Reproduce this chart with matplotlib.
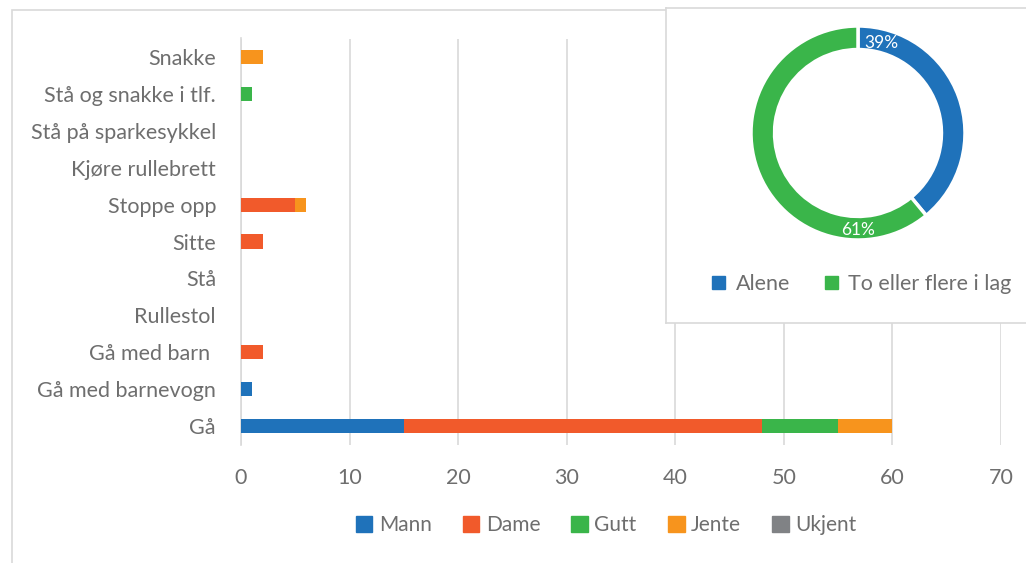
import matplotlib.pyplot as plt
from matplotlib.patches import Rectangle, Patch

plt.rcParams['font.family'] = ['Lato', 'DejaVu Sans']

categories = ["Snakke", "Stå og snakke i tlf.", "Stå på sparkesykkel", "Kjøre rullebrett",
              "Stoppe opp", "Sitte", "Stå", "Rullestol", "Gå med barn ",
              "Gå med barnevogn", "Gå"]
mann   = [0, 0, 0, 0, 0, 0, 0, 0, 0, 1, 15]
dame   = [0, 0, 0, 0, 5, 2, 0, 0, 2, 0, 33]
gutt   = [0, 1, 0, 0, 0, 0, 0, 0, 0, 0, 7]
jente  = [2, 0, 0, 0, 1, 0, 0, 0, 0, 0, 5]
ukjent = [0, 0, 0, 0, 0, 0, 0, 0, 0, 0, 0]
series_names = ["Mann", "Dame", "Gutt", "Jente", "Ukjent"]
series_colors = ["#1F72BA", "#F15A2B", "#3AB54A", "#F7941D", "#808285"]

donut_labels = ["Alene", "To eller flere i lag"]
donut_values = [39, 61]
donut_colors = ["#1F72BA", "#3AB54A"]

txt = "#6E6E6E"
grid = "#D9D9D9"

fig = plt.figure(figsize=(10.26, 5.63), dpi=100)

# outer chart frame
fig.patches.append(Rectangle((12/1026, -0.1), 1.1, 1.1 - 10/563, transform=fig.transFigure,
                             facecolor="none", edgecolor=grid, lw=1.2, zorder=-1))

ax = fig.add_axes([241/1026, 1 - 444.5/563, 760/1026, 406/563])
y = list(range(len(categories)))
left = [0] * len(categories)
for name, vals, col in zip(series_names, [mann, dame, gutt, jente, ukjent], series_colors):
    ax.barh(y, vals, left=left, height=0.38, color=col, label=name, zorder=3)
    left = [a + b for a, b in zip(left, vals)]

ax.set_xlim(0, 70)
ax.set_ylim(len(categories) - 0.5, -0.5)
ax.set_yticks(y)
ax.set_yticklabels(categories)
ax.set_xticks(range(0, 71, 10))
ax.xaxis.grid(True, color=grid, lw=1.2)
ax.set_axisbelow(True)
for s in ["top", "right", "bottom"]:
    ax.spines[s].set_visible(False)
ax.spines["left"].set_color(grid)
ax.spines["left"].set_linewidth(1.2)
ax.tick_params(axis="y", length=0, pad=18, labelsize=15.5, labelcolor=txt)
ax.tick_params(axis="x", length=0, pad=17, labelsize=15.5, labelcolor=txt)

handles = [Patch(color=c, label=n) for n, c in zip(series_names, series_colors)]
fig.legend(handles=handles, loc="center", bbox_to_anchor=(606/1026, 1 - 525/563), ncol=5,
           frameon=False, fontsize=15, labelcolor=txt, handlelength=0.8, handleheight=0.8,
           handletextpad=0.3, columnspacing=1.5)

# donut panel
panel = fig.add_axes([666/1026, 1 - 323/563, 370/1026, 315/563], zorder=5)
panel.set_xticks([])
panel.set_yticks([])
panel.set_facecolor("white")
for s in panel.spines.values():
    s.set_color(grid)
    s.set_linewidth(1.2)

pax = fig.add_axes([751/1026, 1 - 240/563, 214/1026, 214/563], zorder=6)
pax.pie(donut_values, colors=donut_colors, startangle=90, counterclock=False, radius=1,
        wedgeprops=dict(width=0.22, edgecolor="white", linewidth=2.5))
pax.set_xlim(-1, 1)
pax.set_ylim(-1, 1)
pax.set_aspect("equal")
pax.axis("off")
pax.text(0.22, 0.84, f"{donut_values[0]}%", color="white", fontsize=12.5, ha="center", va="center")
pax.text(0.0, -0.91, f"{donut_values[1]}%", color="white", fontsize=12.5, ha="center", va="center")

dh = [Patch(color=c, label=n) for n, c in zip(donut_labels, donut_colors)]
panel.legend(handles=dh, loc="center", bbox_to_anchor=(862/1026, 1 - 284/563),
             bbox_transform=fig.transFigure, ncol=2, frameon=False, fontsize=15.5,
             labelcolor=txt, handlelength=0.6, handleheight=0.6, handletextpad=0.5,
             columnspacing=1.6)

fig.savefig("out.png", dpi=100)
